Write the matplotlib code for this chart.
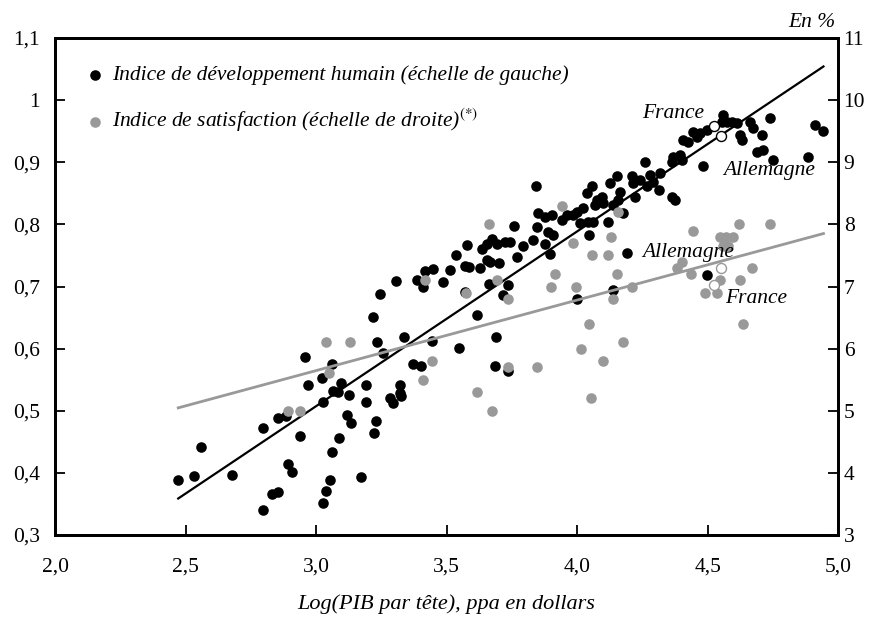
import numpy as np
import matplotlib
matplotlib.use("Agg")
import matplotlib.pyplot as plt
from matplotlib.ticker import FuncFormatter

plt.rcParams['font.family'] = ['Liberation Serif', 'DejaVu Serif']
plt.rcParams['mathtext.fontset'] = 'stix'

# Indice de developpement humain (echelle de gauche)
idh_x = [2.472, 2.533, 2.558, 2.677, 2.796, 2.833, 2.853, 2.796, 2.856, 2.884,
         2.939, 2.892, 2.907, 2.958, 2.970, 3.022, 3.060, 3.028, 3.066, 3.085,
         3.096, 3.128, 3.190, 3.190, 3.217, 3.235, 3.118, 3.134, 3.089, 3.060,
         3.052, 3.038, 3.026, 3.172, 3.229, 3.223, 3.673, 3.654, 3.635, 3.692,
         3.577, 3.535, 3.571, 3.587, 3.628, 3.655, 3.702, 3.513, 3.447, 3.418,
         3.386, 3.411, 3.488, 3.305, 3.245, 3.571, 3.664, 3.618, 3.338, 3.443,
         3.549, 3.688, 3.686, 3.370, 3.401, 3.258, 3.322, 3.322, 3.284, 3.295,
         3.326, 3.734, 3.999, 3.843, 4.190, 4.139, 3.718, 3.734, 3.724, 3.743,
         3.667, 3.760, 3.792, 3.769, 3.833, 3.846, 3.852, 3.877, 3.903, 3.890,
         3.909, 3.877, 3.897, 3.941, 3.961, 3.986, 3.999, 4.024, 4.011, 4.043,
         4.062, 4.047, 4.037, 4.056, 4.075, 4.095, 4.101, 4.069, 4.120, 4.139,
         4.126, 4.152, 4.165, 4.158, 4.177, 4.210, 4.213, 4.241, 4.261, 4.267,
         4.222, 4.280, 4.292, 4.318, 4.315, 4.363, 4.375, 4.369, 4.363, 4.395,
         4.401, 4.407, 4.426, 4.446, 4.459, 4.471, 4.497, 4.484, 4.561, 4.574,
         4.593, 4.612, 4.554, 4.625, 4.631, 4.663, 4.675, 4.708, 4.688, 4.714,
         4.739, 4.752, 4.886, 4.912, 4.944, 4.497]
idh_y = [0.389, 0.395, 0.442, 0.396, 0.340, 0.366, 0.369, 0.472, 0.489, 0.492,
         0.460, 0.415, 0.402, 0.586, 0.542, 0.552, 0.576, 0.514, 0.532, 0.530,
         0.544, 0.526, 0.541, 0.514, 0.651, 0.610, 0.493, 0.481, 0.456, 0.434,
         0.388, 0.371, 0.352, 0.393, 0.484, 0.464, 0.777, 0.769, 0.760, 0.769,
         0.767, 0.751, 0.733, 0.731, 0.729, 0.743, 0.738, 0.726, 0.728, 0.725,
         0.710, 0.700, 0.708, 0.709, 0.688, 0.691, 0.704, 0.654, 0.619, 0.612,
         0.601, 0.619, 0.572, 0.576, 0.572, 0.593, 0.541, 0.528, 0.520, 0.512,
         0.524, 0.564, 0.680, 0.862, 0.754, 0.694, 0.687, 0.703, 0.771, 0.772,
         0.739, 0.797, 0.766, 0.747, 0.775, 0.796, 0.818, 0.812, 0.815, 0.788,
         0.783, 0.769, 0.753, 0.807, 0.815, 0.815, 0.820, 0.826, 0.802, 0.804,
         0.804, 0.783, 0.850, 0.861, 0.839, 0.844, 0.834, 0.831, 0.804, 0.831,
         0.866, 0.878, 0.852, 0.839, 0.818, 0.878, 0.866, 0.871, 0.901, 0.861,
         0.844, 0.879, 0.869, 0.882, 0.855, 0.844, 0.839, 0.909, 0.901, 0.912,
         0.904, 0.936, 0.933, 0.949, 0.941, 0.947, 0.952, 0.894, 0.976, 0.965,
         0.965, 0.963, 0.965, 0.944, 0.936, 0.965, 0.955, 0.944, 0.917, 0.920,
         0.971, 0.904, 0.909, 0.960, 0.951, 0.718]

# Indice de satisfaction (echelle de droite)
sat_x = [2.894, 2.939, 3.051, 3.037, 3.130, 3.664, 3.418, 3.574, 3.443, 3.411,
         3.618, 3.734, 3.846, 3.673, 4.047, 4.015, 4.054, 3.737, 4.139, 4.637,
         4.177, 4.101, 3.941, 3.986, 3.916, 3.900, 3.997, 4.056, 3.695, 4.158,
         4.120, 4.130, 4.152, 4.211, 4.446, 4.621, 4.739, 4.548, 4.571, 4.599,
         4.561, 4.577, 4.382, 4.401, 4.437, 4.669, 4.548, 4.625, 4.492, 4.538]
sat_y = [5.0, 5.0, 5.6, 6.1, 6.1, 8.0, 7.1, 6.9, 5.8, 5.5,
         5.3, 5.7, 5.7, 5.0, 6.4, 6.0, 5.2, 6.8, 6.8, 6.4,
         6.1, 5.8, 8.3, 7.7, 7.2, 7.0, 7.0, 7.5, 7.1, 8.2,
         7.5, 7.8, 7.2, 7.0, 7.9, 8.0, 8.0, 7.8, 7.8, 7.8,
         7.65, 7.65, 7.3, 7.4, 7.2, 7.3, 7.1, 7.1, 6.9, 6.9]

# France et Allemagne
pays = ['France', 'Allemagne']
pays_x = [4.525, 4.551]
pays_idh = [0.958, 0.942]
pays_sat = [7.02, 7.29]

# droites de tendance (pente, constante)
fit_idh = [0.2813, -0.3366]
fit_sat = [1.135, 2.241]

fig = plt.figure(figsize=(8.82, 6.18), dpi=100)
ax = fig.add_axes([0.0624, 0.1343, 0.8878, 0.8042])
ax2 = ax.twinx()

grey = '#999999'
fs = 15.5

xs = np.array([min(idh_x), max(idh_x)])

h1 = ax.scatter(idh_x, idh_y, s=58, c='black', linewidths=0, zorder=2,
                label='Indice de développement humain (échelle de gauche)')
ax.plot(xs, np.polyval(fit_idh, xs), color='black', lw=1.6, zorder=3)
ax.scatter(pays_x, pays_idh, s=52, c='white', edgecolors='black', linewidths=1.0, zorder=4)

h2 = ax2.scatter(sat_x, sat_y, s=58, c=grey, linewidths=0, zorder=2,
                 label='Indice de satisfaction (échelle de droite)$^{(*)}$')
ax2.plot(xs, np.polyval(fit_sat, xs), color=grey, lw=2.0, zorder=3)
ax2.scatter(pays_x, pays_sat, s=52, c='white', edgecolors=grey, linewidths=1.0, zorder=4)

ax.set_xlim(2.0, 5.0)
ax.set_ylim(0.3, 1.1)
ax2.set_ylim(3, 11)
ax.set_xticks(np.arange(2.0, 5.01, 0.5))
ax.set_yticks(np.arange(0.3, 1.11, 0.1))
ax2.set_yticks(np.arange(3, 12, 1))

ax.xaxis.set_major_formatter(FuncFormatter(lambda v, p: f"{v:.1f}".replace('.', ',')))
ax.yaxis.set_major_formatter(FuncFormatter(lambda v, p: f"{round(v, 1):g}".replace('.', ',')))
ax2.yaxis.set_major_formatter(FuncFormatter(lambda v, p: f"{v:g}"))

ax.tick_params(axis='x', direction='in', length=7, width=1.3, pad=16, labelsize=fs)
ax.tick_params(axis='y', direction='in', length=7, width=1.3, pad=11, labelsize=fs)
ax2.tick_params(axis='y', direction='in', length=7, width=1.3, pad=4, labelsize=fs)

for a in (ax, ax2):
    for sp in a.spines.values():
        sp.set_linewidth(2.0)

ax.set_xlabel('Log(PIB par tête), ppa en dollars', fontsize=16, style='italic', labelpad=13)
ax.text(0.996, 1.032, 'En %', transform=ax.transAxes, ha='right', va='center',
        fontsize=fs, style='italic')

# etiquettes pays
ax.text(4.249, 0.978, 'France', fontsize=fs, style='italic', va='center', zorder=5)
ax.text(4.559, 0.887, 'Allemagne', fontsize=fs, style='italic', va='center', zorder=5)
ax2.text(4.248, 7.54, 'Allemagne', fontsize=fs, style='italic', va='center', zorder=5)
ax2.text(4.567, 6.81, 'France', fontsize=fs, style='italic', va='center', zorder=5)

ax2.legend(handles=[h1, h2], loc='upper left', bbox_to_anchor=(0.04, 0.945),
           frameon=False, prop={'style': 'italic', 'size': fs},
           scatterpoints=1, handlelength=0.8, handletextpad=0.4,
           borderpad=0, borderaxespad=0, labelspacing=1.0)

plt.savefig('out.png', dpi=100)
